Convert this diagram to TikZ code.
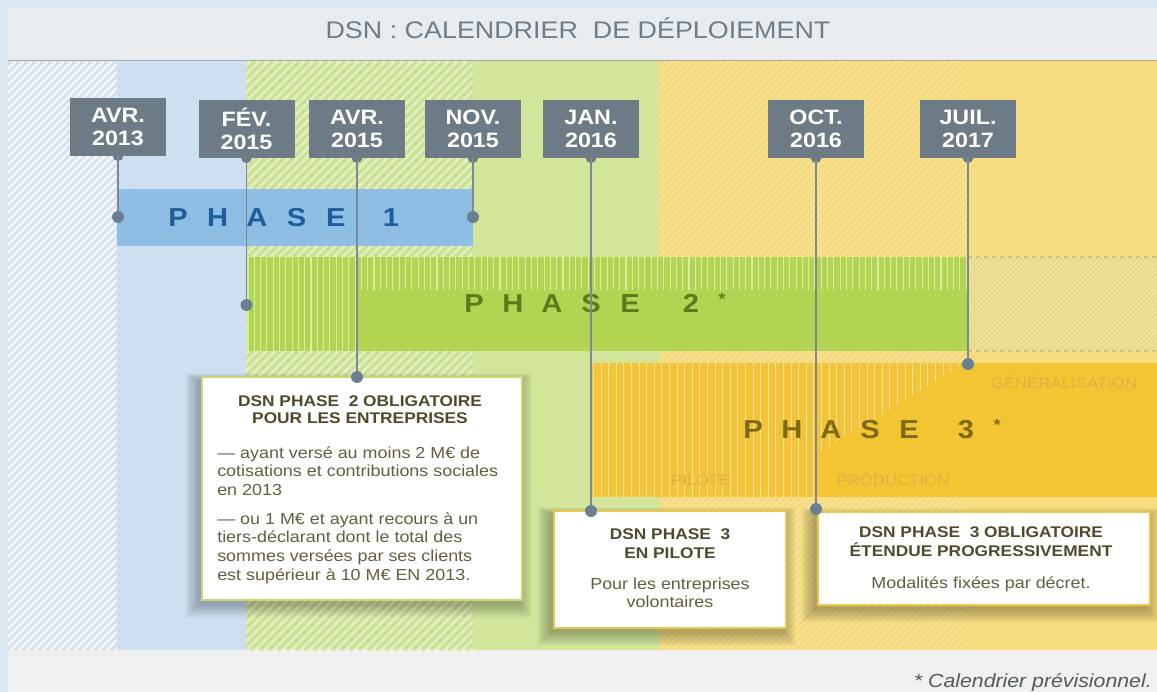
\documentclass[tikz,border=0pt]{standalone}
\usepackage{fontspec}
\setmainfont{Liberation Sans}[FakeStretch=1.12]
\definecolor{outerbg}{HTML}{DCE8F4}
\definecolor{titlebg}{HTML}{E8ECEF}
\definecolor{titletext}{HTML}{6F7C86}
\definecolor{sepline}{HTML}{A7ABA3}
\definecolor{grayhb}{HTML}{D4DFEA}
\definecolor{grayhs}{HTML}{F1F5F9}
\definecolor{lightblue}{HTML}{CDE0F2}
\definecolor{greenhb}{HTML}{E4EEC8}
\definecolor{greenhs}{HTML}{CDE290}
\definecolor{greensolid}{HTML}{D2E59B}
\definecolor{yellowhb}{HTML}{F5DA7C}
\definecolor{yellowhs}{HTML}{F6E39C}
\definecolor{yellowsolid}{HTML}{F7DC80}
\definecolor{bottombg}{HTML}{F0F0F0}
\definecolor{phaseone}{HTML}{8EBEE3}
\definecolor{phaseonetext}{HTML}{1E5E9C}
\definecolor{phasetwo}{HTML}{B2D453}
\definecolor{phasetwos}{HTML}{DCEE9F}
\definecolor{phasetwotext}{HTML}{5A7C1C}
\definecolor{ptcb}{HTML}{F3E194}
\definecolor{ptcs}{HTML}{DCD88A}
\definecolor{ptcd}{HTML}{C9C48C}
\definecolor{phasethree}{HTML}{F3C532}
\definecolor{pilotbase}{HTML}{F3C43A}
\definecolor{pilots}{HTML}{FCE590}
\definecolor{phasethreetext}{HTML}{7C6A14}
\definecolor{labeltext}{HTML}{DFAF45}
\definecolor{datefill}{HTML}{6D7B86}
\definecolor{pinline}{HTML}{7C8993}
\definecolor{pindot}{HTML}{6C7F92}
\definecolor{cborderA}{HTML}{CDD472}
\definecolor{cborderB}{HTML}{EAC84E}
\definecolor{ctitle}{HTML}{4F4A2C}
\definecolor{cbody}{HTML}{645E40}
\definecolor{footertext}{HTML}{505A63}
\newcommand\dhatch[7]{%
  \begin{scope}
  \clip (#1,#2) rectangle (#3,#4);
  \fill[#6] (#1,#2) rectangle (#3,#4);
  \pgfmathsetmacro\dhh{#4-#2}
  \pgfmathsetmacro\dha{#1-\dhh}
  \pgfmathsetmacro\dhb{#1-\dhh+#5}
  \foreach \k in {\dha,\dhb,...,#3} \draw[#7] (\k,#4) -- ++(\dhh,-\dhh);
  \end{scope}}
\newcommand\vhatch[7]{%
  \begin{scope}
  \clip (#1,#2) rectangle (#3,#4);
  \fill[#6] (#1,#2) rectangle (#3,#4);
  \pgfmathsetmacro\vha{#1+1.5}
  \pgfmathsetmacro\vhb{#1+1.5+#5}
  \foreach \k in {\vha,\vhb,...,#3} \draw[#7] (\k,#2) -- (\k,#4);
  \end{scope}}
\newcommand\softshadow[4]{%
  \foreach \i in {1,...,14} \fill[black, opacity=0.02] (#1-3-\i*1.0,#2+3-\i*0.5) rectangle (#3-3+\i*0.9,#4+4+\i*1.0);}
\newcommand\Lb[2]{\makebox[#1pt][c]{#2}}
\begin{document}
\begin{tikzpicture}[x=0.75pt,y=-0.75pt,
  pinln/.style={draw=pinline, line width=1.2pt},
  pdot/.style={circle, fill=pindot, inner sep=0pt, minimum size=9pt},
  datebox/.style={rectangle, fill=datefill, text=white, minimum width=72pt, minimum height=42.75pt, inner sep=0pt, align=center, font=\bfseries\fontsize{15.6}{17.4}\selectfont},
  callout/.style={rectangle, fill=white, line width=1.2pt, inner sep=0pt},
  ctitlef/.style={anchor=base, text=ctitle, inner sep=0pt, font=\bfseries\fontsize{11.6}{13}\selectfont},
  cbodyf/.style={inner sep=0pt, text=cbody, font=\fontsize{12}{14}\selectfont},
  phasef/.style={inner sep=0pt, font=\bfseries\fontsize{19.5}{22}\selectfont},
  lblf/.style={anchor=base, inner sep=0pt, text=labeltext, font=\fontsize{11.25}{13}\selectfont}]
\useasboundingbox (0,0) rectangle (1157,692);
% frame and bands
\fill[outerbg] (0,0) rectangle (1157,692);
\fill[titlebg] (8,8) rectangle (1157,60);
\fill[bottombg] (8,650) rectangle (1157,692);
% background columns
\dhatch{8}{61}{116.5}{650}{8}{grayhb}{draw=grayhs, line width=2.2pt}
\fill[lightblue] (116.5,61) rectangle (246,650);
\dhatch{246}{61}{473}{650}{9}{greenhb}{draw=greenhs, line width=2.5pt}
\fill[greensolid] (473,61) rectangle (659,650);
\dhatch{659}{61}{967}{650}{7}{yellowhb}{draw=yellowhs, line width=1.3pt}
\fill[yellowsolid] (967,61) rectangle (1157,650);
\draw[sepline, line width=1.1pt] (8,60.5) -- (1157,60.5);
% title
\node[anchor=base, inner sep=0pt, text=titletext, font=\fontsize{18}{20}\selectfont] (title) at (578,38.5) {DSN : CALENDRIER\ \ DE DÉPLOIEMENT};
% phase 1
\fill[phaseone] (116.5,189) rectangle (473,246);
\node[phasef, text=phaseonetext] (ph1) at (284.5,218) {\Lb{29.6}{P}\Lb{29.6}{H}\Lb{29.6}{A}\Lb{29.6}{S}\Lb{29.6}{E}\hspace{11.6pt}\Lb{29.6}{1}};
% phase 2
\fill[phasetwo] (246.5,257) rectangle (968,351);
\vhatch{246.5}{257}{968}{290}{6.3}{phasetwo}{draw=phasetwos, line width=0.8pt}
\vhatch{246.5}{290}{357}{351}{6.3}{phasetwo}{draw=phasetwos, line width=0.8pt}
\dhatch{968}{257}{1157}{351}{5}{ptcb}{draw=ptcs, line width=0.8pt}
\draw[ptcd, dashed, line width=0.8pt] (968,257) -- (1157,257);
\draw[ptcd, dashed, line width=0.8pt] (968,351) -- (1157,351);
\node[phasef, text=phasetwotext] (ph2) at (594,303) {\Lb{29.25}{P}\Lb{29.25}{H}\Lb{29.25}{A}\Lb{29.25}{S}\Lb{29.25}{E}\hspace{16.5pt}\Lb{29.25}{2}\Lb{17.25}{\fontsize{12}{12}\selectfont\raisebox{6pt}{*}}};
% phase 3
\fill[phasethree] (592,363) rectangle (1157,497);
\begin{scope}
\clip (592,363) -- (966,363) -- (820,452) -- (820,497) -- (592,497) -- cycle;
\vhatch{592}{363}{966}{497}{7.6}{pilotbase}{draw=pilots, line width=0.85pt}
\end{scope}
\node[lblf] (gen) at (1064,388) {GÉNÉRALISATION};
\node[lblf] (pil) at (701,485) {PILOTE};
\node[lblf] (prod) at (893,485) {PRODUCTION};
\node[phasef, text=phasethreetext] (ph3) at (871,429) {\Lb{29.25}{P}\Lb{29.25}{H}\Lb{29.25}{A}\Lb{29.25}{S}\Lb{29.25}{E}\hspace{13.5pt}\Lb{29.25}{3}\Lb{17.25}{\fontsize{12}{12}\selectfont\raisebox{6pt}{*}}};
% callouts
\softshadow{202}{377}{522}{600}
\softshadow{554}{511}{786}{628}
\softshadow{818}{512}{1150}{605}
\node[callout, draw=cborderA, minimum width=240pt, minimum height=167.25pt] (c1) at (362,488.5) {};
\node[callout, draw=cborderB, minimum width=174pt, minimum height=87.75pt] (c2) at (670,569.5) {};
\node[callout, draw=cborderB, minimum width=249pt, minimum height=69.75pt] (c3) at (984,558.5) {};
\node[ctitlef] (c1t1) at (360,406) {DSN PHASE\ \ 2 OBLIGATOIRE};
\node[ctitlef] (c1t2) at (360,423) {POUR LES ENTREPRISES};
\node[cbodyf, anchor=base west] (c1b1) at (217,458) {— ayant versé au moins 2 M€ de};
\node[cbodyf, anchor=base west] (c1b2) at (217,476.8) {cotisations et contributions sociales};
\node[cbodyf, anchor=base west] (c1b3) at (217,495.6) {en 2013};
\node[cbodyf, anchor=base west] (c1b4) at (217,524) {— ou 1 M€ et ayant recours à un};
\node[cbodyf, anchor=base west] (c1b5) at (217,542.8) {tiers-déclarant dont le total des};
\node[cbodyf, anchor=base west] (c1b6) at (217,561.6) {sommes versées par ses clients};
\node[cbodyf, anchor=base west] (c1b7) at (217,580.4) {est supérieur à 10 M€ EN 2013.};
\node[ctitlef] (c2t1) at (670,539) {DSN PHASE\ \ 3};
\node[ctitlef] (c2t2) at (670,558) {EN PILOTE};
\node[cbodyf, anchor=base] (c2b1) at (670,589) {Pour les entreprises};
\node[cbodyf, anchor=base] (c2b2) at (670,607) {volontaires};
\node[ctitlef] (c3t1) at (981,537) {DSN PHASE\ \ 3 OBLIGATOIRE};
\node[ctitlef] (c3t2) at (981,556) {ÉTENDUE PROGRESSIVEMENT};
\node[cbodyf, anchor=base] (c3b1) at (981,588) {Modalités fixées par décret.};
% footer
\node[anchor=base east, inner sep=0pt, text=footertext, font=\itshape\fontsize{14.25}{16}\selectfont] (foot) at (1152,687) {* Calendrier prévisionnel.};
% date boxes
\node[datebox] (d1) at (118,127) {AVR.\\2013};
\node[datebox] (d2) at (246.5,129) {FÉV.\\2015};
\node[datebox] (d3) at (357,129) {AVR.\\2015};
\node[datebox] (d4) at (473,129) {NOV.\\2015};
\node[datebox] (d5) at (591,129) {JAN.\\2016};
\node[datebox] (d6) at (816,129) {OCT.\\2016};
\node[datebox] (d7) at (968,129) {JUIL.\\2017};
\foreach \d in {d1,d2,d3,d4,d5,d6,d7} \fill[datefill] (\d.south) circle (4pt);
% pin dots
\node[pdot] (p1) at (118,217) {};
\node[pdot] (p2) at (246.5,305) {};
\node[pdot] (p3) at (357,377) {};
\node[pdot] (p4) at (473,217) {};
\node[pdot] (p5) at (591,511) {};
\node[pdot] (p6) at (816,509) {};
\node[pdot] (p7) at (968,364) {};
\draw[pinln] (d1.south) -- (p1);
\draw[pinln] (d2.south) -- (p2);
\draw[pinln] (d3.south) -- (p3);
\draw[pinln] (d4.south) -- (p4);
\draw[pinln] (d5.south) -- (p5);
\draw[pinln] (d6.south) -- (p6);
\draw[pinln] (d7.south) -- (p7);
\end{tikzpicture}
\end{document}
